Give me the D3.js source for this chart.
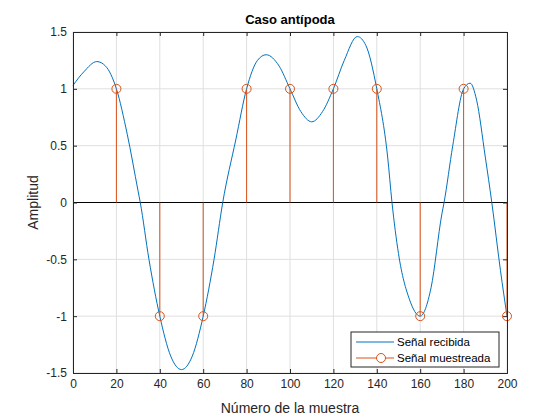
<!DOCTYPE html>
<html>
<head>
<meta charset="utf-8">
<style>
  body { margin: 0; background: #fff; font-family: Arial, "Liberation Sans", sans-serif; }
</style>
</head>
<body>
<div id="chart"></div>
<script src="https://d3js.org/d3.v7.min.js"></script>
<script>
// received signal
var recvX = [0,5,11,15,20,25,30,31,35,40,45,50,55,60,65,69,75,80,85,89,95,100,105,110,115,120,125,131,135,140,145,147,150,155,160,165,170,171,175,180,183,186,190,193,197,200]
var recvY = [1.03,1.15,1.24,1.2,1.0,0.6,0.1,0.0,-0.5,-1.0,-1.35,-1.47,-1.35,-1.0,-0.5,0.0,0.55,1.0,1.25,1.3,1.2,1.0,0.8,0.71,0.8,1.0,1.25,1.46,1.38,1.0,0.4,0.0,-0.45,-0.85,-1.0,-0.75,-0.1,0.0,0.5,1.0,1.05,0.9,0.4,0.0,-0.6,-1.0]
// sampled values
var sampX = [20,40,60,80,100,120,140,160,180,200]
var sampY = [1,-1,-1,1,1,1,1,-1,1,-1]
var xTicks = [0,20,40,60,80,100,120,140,160,180,200]
var yTicks = [-1.5,-1,-0.5,0,0.5,1,1.5]

var W = 560, H = 420
var margin = {top: 32, right: 53, bottom: 47, left: 73}
var width = W - margin.left - margin.right,
    height = H - margin.top - margin.bottom

var svg = d3.select("#chart").append("svg")
    .attr("width", W).attr("height", H)
var g = svg.append("g")
    .attr("transform", "translate(" + margin.left + "," + margin.top + ")")

var x = d3.scaleLinear().domain([0, 200]).range([0, width])
var y = d3.scaleLinear().domain([-1.5, 1.5]).range([height, 0])

// grid
g.selectAll(".vg").data(xTicks).enter().append("line")
  .attr("x1", d => x(d)).attr("x2", d => x(d))
  .attr("y1", 0).attr("y2", height)
  .style("stroke", "#dfdfdf")
g.selectAll(".hg").data(yTicks).enter().append("line")
  .attr("x1", 0).attr("x2", width)
  .attr("y1", d => y(d)).attr("y2", d => y(d))
  .style("stroke", "#dfdfdf")

// baseline of stems
g.append("line")
  .attr("x1", 0).attr("x2", width)
  .attr("y1", y(0)).attr("y2", y(0))
  .style("stroke", "#000")

var line = d3.line().curve(d3.curveMonotoneX)
  .x(d => x(d[0])).y(d => y(d[1]))
g.append("path")
  .datum(d3.zip(recvX, recvY))
  .attr("d", line)
  .style("fill", "none").style("stroke", "#0072BD").style("stroke-width", 1)

var samp = d3.zip(sampX, sampY)
g.selectAll(".stem").data(samp).enter().append("line")
  .attr("x1", d => x(d[0])).attr("x2", d => x(d[0]))
  .attr("y1", y(0)).attr("y2", d => y(d[1]))
  .style("stroke", "#D95319")
g.selectAll(".mk").data(samp).enter().append("circle")
  .attr("cx", d => x(d[0])).attr("cy", d => y(d[1])).attr("r", 4.5)
  .style("fill", "none").style("stroke", "#D95319")

// axes box
var xAxis = g.append("g").attr("transform", "translate(0," + height + ")")
  .call(d3.axisBottom(x).tickValues(xTicks).tickSize(-4).tickPadding(6))
var xTop = g.append("g")
  .call(d3.axisTop(x).tickValues(xTicks).tickSize(-4).tickFormat(""))
var yAxis = g.append("g")
  .call(d3.axisLeft(y).tickValues(yTicks).tickSize(-4).tickPadding(6).tickFormat(d => String(d)))
var yRight = g.append("g").attr("transform", "translate(" + width + ",0)")
  .call(d3.axisRight(y).tickValues(yTicks).tickSize(-4).tickFormat(""))
g.selectAll(".domain").style("stroke", "#262626")
g.selectAll(".tick line").style("stroke", "#262626")
g.selectAll(".tick text").style("font-size", "12px").style("fill", "#262626")
  .style("font-family", "Arial, 'Liberation Sans', sans-serif")

// labels
svg.append("text").attr("x", margin.left + width / 2).attr("y", 24)
  .attr("text-anchor", "middle").style("font-weight", "bold").style("font-size", "13px")
  .text("Caso antípoda")
svg.append("text").attr("x", margin.left + width / 2).attr("y", 413)
  .attr("text-anchor", "middle").style("font-size", "14px").style("fill", "#262626")
  .text("Número de la muestra")
svg.append("text").attr("transform", "translate(38," + (margin.top + height / 2) + ") rotate(-90)")
  .attr("text-anchor", "middle").style("font-size", "14px").style("fill", "#262626")
  .text("Amplitud")

// legend
var lg = svg.append("g").attr("transform", "translate(351,332)")
lg.append("rect").attr("width", 148).attr("height", 35)
  .style("fill", "#fff").style("stroke", "#262626")
lg.append("line").attr("x1", 5).attr("x2", 43).attr("y1", 10).attr("y2", 10)
  .style("stroke", "#0072BD")
lg.append("line").attr("x1", 5).attr("x2", 43).attr("y1", 26).attr("y2", 26)
  .style("stroke", "#D95319")
lg.append("circle").attr("cx", 30).attr("cy", 26).attr("r", 4.5)
  .style("fill", "#fff").style("stroke", "#D95319")
lg.append("text").attr("x", 46).attr("y", 14).style("font-size", "11.5px").text("Señal recibida")
lg.append("text").attr("x", 46).attr("y", 30).style("font-size", "11.5px").text("Señal muestreada")
</script>
</body>
</html>
